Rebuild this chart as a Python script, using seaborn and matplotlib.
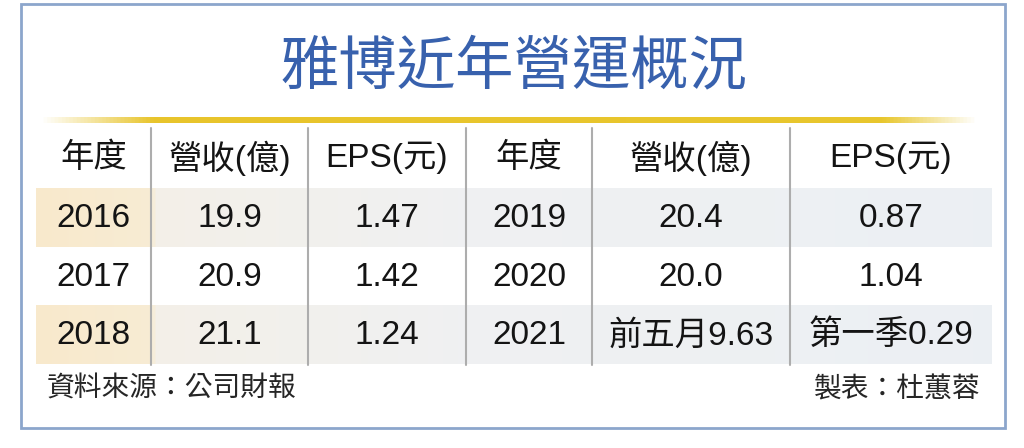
import numpy as np
import matplotlib
matplotlib.use("Agg")
import matplotlib.pyplot as plt
from matplotlib.colors import LinearSegmentedColormap
import seaborn as sns

sns.set_theme(style="white")
plt.rcParams['font.family'] = ['Liberation Sans', 'Noto Sans CJK TC', 'DejaVu Sans']

# ---- data ----
title = "雅博近年營運概況"
headers = ["年度", "營收(億)", "EPS(元)", "年度", "營收(億)", "EPS(元)"]
years_left = ["2016", "2017", "2018"]
revenue_left = ["19.9", "20.9", "21.1"]
eps_left = ["1.47", "1.42", "1.24"]
years_right = ["2019", "2020", "2021"]
revenue_right = ["20.4", "20.0", "前五月9.63"]
eps_right = ["0.87", "1.04", "第一季0.29"]
source_note = "資料來源：公司財報"
author_note = "製表：杜蕙蓉"

# ---- layout (pixel coordinates) ----
W, H = 1024, 448
fig = plt.figure(figsize=(W / 100, H / 100), dpi=100)
ax = fig.add_axes([0, 0, 1, 1])
ax.set_xlim(0, W)
ax.set_ylim(H, 0)
ax.axis("off")

col_edges = [36, 151, 308, 466, 592, 790, 992]
col_centers = [(col_edges[i] + col_edges[i + 1]) / 2 for i in range(6)]
header_y = 158
row_tops = [188, 247, 305]
row_h = 59
row_centers = [t + row_h / 2 + 1 for t in row_tops]

# outer border
ax.add_patch(plt.Rectangle((21, 4), 984, 424, fill=False, ec=(0.55, 0.65, 0.80), lw=2, zorder=5))

# title
ax.text(514, 67, title, ha="center", va="center", fontsize=42, fontweight="medium",
        color=(0.22, 0.38, 0.68), family=['Noto Sans CJK TC'])

# gold line with faded ends
gold = LinearSegmentedColormap.from_list("gold", [
    (0.0, (1, 1, 1)), (0.12, (0.91, 0.77, 0.17)), (0.9, (0.91, 0.78, 0.18)), (1.0, (1, 1, 1))])
grad = np.linspace(0, 1, 512).reshape(1, -1)
ax.imshow(grad, cmap=gold, extent=(40, 978, 123, 117), aspect="auto", zorder=2)

# shaded rows (rows 1 and 3)
band = LinearSegmentedColormap.from_list("band", [
    (0.0, (0.975, 0.915, 0.80)), (0.12, (0.97, 0.925, 0.83)), (0.125, (0.955, 0.94, 0.91)),
    (0.45, (0.94, 0.945, 0.95)), (1.0, (0.925, 0.94, 0.955))])
for r in (0, 2):
    ax.imshow(grad, cmap=band, extent=(col_edges[0], col_edges[-1], row_tops[r] + row_h, row_tops[r]),
              aspect="auto", zorder=1)

# vertical separators
for x in col_edges[1:-1]:
    ax.plot([x, x], [128, 365], color=(0.68, 0.68, 0.68), lw=1.5, zorder=3)

txt_kw = dict(ha="center", va="center", fontsize=24, color=(0.08, 0.08, 0.08), zorder=4)
for c, h in enumerate(headers):
    ax.text(col_centers[c], header_y, h, **txt_kw)

columns = [years_left, revenue_left, eps_left, years_right, revenue_right, eps_right]
for c, col in enumerate(columns):
    for r, val in enumerate(col):
        ax.text(col_centers[c], row_centers[r], val, **txt_kw)

ax.text(47, 390, source_note, ha="left", va="center", fontsize=20, color=(0.15, 0.15, 0.15))
ax.text(980, 390, author_note, ha="right", va="center", fontsize=20, color=(0.15, 0.15, 0.15))

fig.savefig("out.png", dpi=100, facecolor="white")
